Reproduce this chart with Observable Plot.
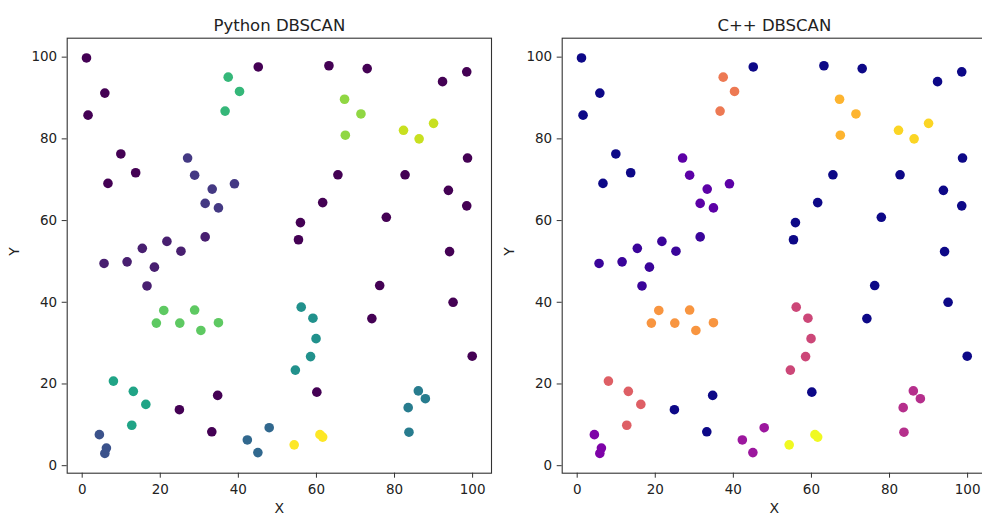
<!DOCTYPE html>
<html>
<head>
<meta charset="utf-8">
<script src="https://cdn.jsdelivr.net/npm/d3@7"></script>
<script src="https://cdn.jsdelivr.net/npm/@observablehq/plot@0.6"></script>
<style>
  html, body { margin: 0; padding: 0; background: #fff; }
  #wrap { position: relative; width: 982px; height: 517px; overflow: hidden; background: #fff; }
  #wrap > div, #wrap > svg { position: absolute; top: 0; }
</style>
</head>
<body>
<div id="wrap"><div id="left"></div><div id="right"></div></div>
<script>
// Point coordinates (shared by both panels)
const pointX = [
  1.1, 1.5, 5.8, 9.9, 6.6, 13.7, 45.1, 63.2, 73.0, 92.3, 98.5, 98.7, 65.5, 82.7, 93.8, 98.5,
  61.6, 77.9, 55.9, 55.4, 94.1, 76.2, 95.0, 74.2, 99.9, 34.7, 60.1, 24.9, 33.2,
  31.5, 25.3, 21.7, 15.4, 5.6, 11.5, 18.5, 16.6,
  27.0, 28.8, 33.3, 31.5, 34.9, 39.0,
  4.4, 6.2, 5.8,
  42.3, 45.0, 47.9,
  86.1, 87.9, 83.5, 83.7,
  56.1, 59.1, 59.9, 58.5, 54.6,
  8.0, 13.1, 16.3, 12.7,
  37.4, 40.3, 36.6,
  19.0, 20.9, 25.0, 28.8, 30.4, 34.9,
  67.2, 71.4, 67.4,
  82.3, 86.3, 90.0,
  54.3, 60.9, 61.6
];
const pointY = [
  99.8, 85.8, 91.2, 76.3, 69.1, 71.7, 97.6, 97.9, 97.2, 94.0, 96.4, 75.3, 71.2, 71.2, 67.4, 63.6,
  64.4, 60.8, 59.5, 55.3, 52.4, 44.1, 40.0, 36.0, 26.8, 17.2, 18.0, 13.7, 8.3,
  56.0, 52.5, 54.9, 53.2, 49.5, 49.9, 48.6, 44.0,
  75.3, 71.1, 67.7, 64.2, 63.1, 69.0,
  7.6, 4.3, 3.0,
  6.3, 3.2, 9.3,
  18.3, 16.4, 14.2, 8.2,
  38.8, 36.1, 31.1, 26.7, 23.4,
  20.7, 18.2, 15.0, 9.9,
  95.1, 91.6, 86.8,
  34.9, 38.0, 34.9, 38.1, 33.1, 35.0,
  89.7, 86.1, 80.9,
  82.1, 80.0, 83.8,
  5.1, 7.6, 7.0
];
// Cluster labels (-1 = noise)
const pythonLabels = [
  -1,-1,-1,-1,-1,-1,-1,-1,-1,-1,-1,-1,-1,-1,-1,-1,
  -1,-1,-1,-1,-1,-1,-1,-1,-1,-1,-1,-1,-1,
  0,0,0,0,0,0,0,0,
  1,1,1,1,1,1,
  2,2,2,
  3,3,3,
  4,4,4,4,
  5,5,5,5,5,
  6,6,6,6,
  7,7,7,
  8,8,8,8,8,8,
  9,9,9,
  10,10,10,
  11,11,11
];
const cppLabels = pythonLabels.slice();
const panelTitles = ["Python DBSCAN", "C++ DBSCAN"];
const axisTicks = [0, 20, 40, 60, 80, 100];

function pad(ext) {
  const m = (ext[1] - ext[0]) * 0.05;
  return [ext[0] - m, ext[1] + m];
}
const xDomain = pad(d3.extent(pointX));
const yDomain = pad(d3.extent(pointY));

function panel(title, labels, scheme) {
  const data = pointX.map((x, i) => ({x, y: pointY[i], label: labels[i]}));
  return Plot.plot({
    width: 500,
    height: 517,
    marginLeft: 66.7,
    marginRight: 9,
    marginTop: 37.7,
    marginBottom: 44.3,
    style: {fontFamily: "DejaVu Sans", fontSize: "13.5px", color: "#222", background: "transparent"},
    x: {domain: xDomain, label: null},
    y: {domain: yDomain, label: null},
    color: {type: "linear", domain: [-1, 11], scheme},
    marks: [
      Plot.axisX({ticks: axisTicks, tickSize: 5, tickPadding: 6, stroke: "#333", label: null, fontSize: 13.5}),
      Plot.axisY({ticks: axisTicks, tickSize: 5, tickPadding: 5, stroke: "#333", label: null, fontSize: 13.5}),
      Plot.dot(data, {x: "x", y: "y", fill: "label", r: 4.8, stroke: null}),
      Plot.frame({stroke: "#333", strokeWidth: 1.1}),
      Plot.text([title], {text: d => d, frameAnchor: "top", lineAnchor: "bottom", dy: -7, fontSize: 16.5, fill: "#222"}),
      Plot.text(["X"], {text: d => d, frameAnchor: "bottom", lineAnchor: "middle", dy: 35, fontSize: 14, fill: "#222"}),
      Plot.text(["Y"], {text: d => d, frameAnchor: "left", dx: -53, rotate: -90, fontSize: 14, fill: "#222"})
    ]
  });
}

const left = panel(panelTitles[0], pythonLabels, "viridis");
const right = panel(panelTitles[1], cppLabels, "plasma");
left.style.position = "absolute"; left.style.left = "0px"; left.style.top = "0px";
right.style.position = "absolute"; right.style.left = "495px"; right.style.top = "0px";
document.getElementById("left").replaceWith(left);
document.getElementById("right").replaceWith(right);
</script>
</body>
</html>
